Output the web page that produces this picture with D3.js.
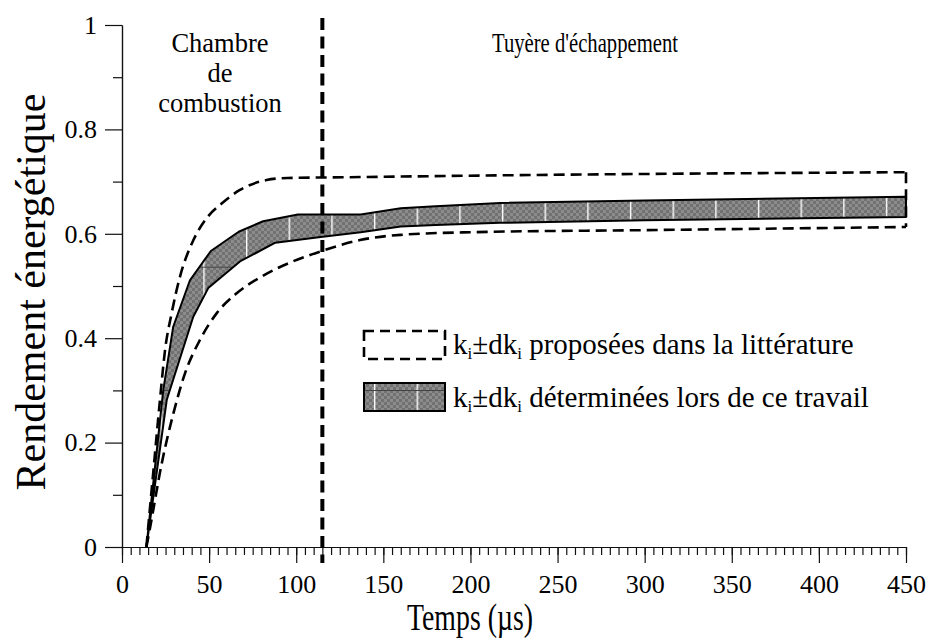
<!DOCTYPE html>
<html>
<head>
<meta charset="utf-8">
<script src="https://cdn.jsdelivr.net/npm/d3@7"></script>
<style>
  body { margin: 0; background: #fff; }
  svg text { font-family: "Liberation Serif", "DejaVu Serif", serif; fill: #000; }
</style>
</head>
<body>
<div id="chart"></div>
<script>
// Valeurs : [temps (µs), rendement]
const litHaut = [[14, 0], [18, 0.145], [21.8, 0.282], [24.7, 0.377], [28.5, 0.448], [33.3, 0.518], [41, 0.588], [48.6, 0.63], [57.2, 0.658], [67.7, 0.684], [83, 0.703], [95, 0.707], [120, 0.708], [217, 0.712], [450, 0.718]];
const litBas = [[14, 0], [16, 0.035], [22.8, 0.16], [29.5, 0.256], [36.2, 0.333], [44.8, 0.397], [54.4, 0.448], [65.8, 0.486], [80, 0.518], [98, 0.547], [114.6, 0.567], [136.6, 0.588], [160, 0.598], [200, 0.603], [300, 0.607], [450, 0.613]];
const bandeHaut = [[14, 0], [23.7, 0.301], [29.4, 0.422], [39, 0.511], [51, 0.567], [67, 0.604], [81, 0.624], [101, 0.637], [137, 0.637], [160, 0.649], [180, 0.653], [217, 0.659], [300, 0.664], [450, 0.671]];
const bandeBas = [[14, 0], [25.7, 0.282], [40.9, 0.441], [49.5, 0.496], [67.7, 0.547], [88, 0.583], [114, 0.594], [137, 0.603], [160, 0.614], [180, 0.617], [217, 0.621], [300, 0.626], [450, 0.632]];

const xTicks = [0, 50, 100, 150, 200, 250, 300, 350, 400, 450];
const yTicks = [0, 0.2, 0.4, 0.6, 0.8, 1];
const tFrontiere = 115;
const zones = ["Chambre", "de", "combustion"];
const zone2 = "Tuyère d'échappement";
const legendes = ["proposées dans la littérature", "déterminées lors de ce travail"];

const svg = d3.select("#chart")
  .append("svg")
  .attr("width", 928)
  .attr("height", 640)
  .attr("font-family", "Liberation Serif, serif");

const x = d3.scaleLinear().domain([0, 450]).range([122, 906]);
const y = d3.scaleLinear().domain([0, 1]).range([547, 25]);

//------Motifs de remplissage (damier gris + traits blancs)
const defs = svg.append("defs");
const damier = defs.append("pattern")
  .attr("id", "damier")
  .attr("patternUnits", "userSpaceOnUse")
  .attr("width", 6).attr("height", 6);
damier.append("rect").attr("width", 6).attr("height", 6).attr("fill", "#8c8c8c");
damier.append("rect").attr("width", 3).attr("height", 3).attr("fill", "#717171");
damier.append("rect").attr("x", 3).attr("y", 3).attr("width", 3).attr("height", 3).attr("fill", "#717171");

const trame = defs.append("pattern")
  .attr("id", "trame")
  .attr("patternUnits", "userSpaceOnUse")
  .attr("x", 203.3).attr("y", 266.7)
  .attr("width", 42.66).attr("height", 123.3);
trame.append("line").attr("x1", 0.7).attr("x2", 0.7).attr("y1", 0).attr("y2", 123.3)
  .attr("stroke", "#fff").attr("stroke-width", 1.4);
trame.append("line").attr("x1", 0).attr("x2", 42.66).attr("y1", 0.5).attr("y2", 0.5)
  .attr("stroke", "#444").attr("stroke-width", 1);

//------Axes
svg.append("g")
  .attr("transform", `translate(0,${y(0)})`)
  .call(d3.axisBottom(x).tickValues(d3.range(0, 451, 5)).tickSize(8).tickSizeOuter(0).tickFormat(""));
svg.append("g")
  .attr("transform", `translate(0,${y(0)})`)
  .call(d3.axisBottom(x).tickValues(xTicks).tickSize(16).tickSizeOuter(0).tickPadding(12))
  .attr("font-size", 26)
  .attr("font-family", null);

svg.append("g")
  .attr("transform", `translate(${x(0)},0)`)
  .call(d3.axisLeft(y).tickValues([0.1, 0.3, 0.5, 0.7, 0.9]).tickSize(9).tickSizeOuter(0).tickFormat(""));
svg.append("g")
  .attr("transform", `translate(${x(0)},0)`)
  .call(d3.axisLeft(y).tickValues(yTicks).tickSize(17).tickSizeOuter(0).tickPadding(8).tickFormat(d => String(d)))
  .attr("font-size", 26)
  .attr("font-family", null);

svg.selectAll(".domain, .tick line").attr("stroke", "#111").attr("stroke-width", 1.2);

//------Bande déterminée (polygone)
const ligne = d3.line().x(d => x(d[0])).y(d => y(d[1]));
const polygone = bandeHaut.concat(bandeBas.slice().reverse());
svg.append("path")
  .attr("d", ligne(polygone) + "Z")
  .attr("fill", "url(#damier)");
svg.append("path")
  .attr("d", ligne(polygone) + "Z")
  .attr("fill", "url(#trame)")
  .attr("stroke", "#000")
  .attr("stroke-width", 2)
  .attr("stroke-linejoin", "round");

//------Bande de la littérature (tirets)
const courbe = d3.line().x(d => x(d[0])).y(d => y(d[1])).curve(d3.curveMonotoneX);
[litHaut, litBas].forEach(serie => {
  svg.append("path")
    .attr("d", courbe(serie))
    .attr("fill", "none")
    .attr("stroke", "#000")
    .attr("stroke-width", 2.6)
    .attr("stroke-dasharray", "11,6");
});
svg.append("line")
  .attr("x1", x(450)).attr("x2", x(450))
  .attr("y1", y(litHaut[litHaut.length - 1][1]))
  .attr("y2", y(litBas[litBas.length - 1][1]))
  .attr("stroke", "#000")
  .attr("stroke-width", 2.6)
  .attr("stroke-dasharray", "11,6");

//------Frontière chambre / tuyère
svg.append("line")
  .attr("x1", x(tFrontiere)).attr("x2", x(tFrontiere))
  .attr("y1", 18).attr("y2", 563)
  .attr("stroke", "#000")
  .attr("stroke-width", 4)
  .attr("stroke-dasharray", "12,6.5");

//------Textes des zones
svg.selectAll(".zone")
  .data(zones)
  .enter()
  .append("text")
  .attr("class", "zone")
  .attr("x", 220)
  .attr("y", (d, i) => 52 + i * 30)
  .attr("text-anchor", "middle")
  .attr("font-size", 26.5)
  .text(d => d);
svg.append("text")
  .attr("x", 585).attr("y", 52)
  .attr("text-anchor", "middle")
  .attr("font-size", 26.5)
  .attr("textLength", 186)
  .attr("lengthAdjust", "spacingAndGlyphs")
  .text(zone2);

//------Titres des axes
svg.append("text")
  .attr("x", 470).attr("y", 630)
  .attr("text-anchor", "middle")
  .attr("font-size", 37)
  .attr("textLength", 126)
  .attr("lengthAdjust", "spacingAndGlyphs")
  .text("Temps (µs)");
svg.append("text")
  .attr("transform", "translate(45,292) rotate(-90)")
  .attr("text-anchor", "middle")
  .attr("font-size", 42)
  .text("Rendement énergétique");

//------Légende
const leg = svg.append("g");
leg.append("rect")
  .attr("x", 364).attr("y", 331).attr("width", 81).attr("height", 28)
  .attr("fill", "none").attr("stroke", "#000").attr("stroke-width", 2.6)
  .attr("stroke-dasharray", "10,6");
leg.append("rect")
  .attr("x", 364).attr("y", 383).attr("width", 81).attr("height", 28)
  .attr("fill", "url(#damier)");
leg.append("rect")
  .attr("x", 364).attr("y", 383).attr("width", 81).attr("height", 28)
  .attr("fill", "url(#trame)").attr("stroke", "#000").attr("stroke-width", 2);

legendes.forEach((txt, i) => {
  const t = leg.append("text")
    .attr("x", 453)
    .attr("y", 354 + i * 53)
    .attr("font-size", 29);
  t.append("tspan").text("k");
  t.append("tspan").attr("dy", 5).attr("font-size", 17).text("i");
  t.append("tspan").attr("dy", -5).text("±dk");
  t.append("tspan").attr("dy", 5).attr("font-size", 17).text("i");
  t.append("tspan").attr("dy", -5).text(" " + txt);
});
</script>
</body>
</html>
